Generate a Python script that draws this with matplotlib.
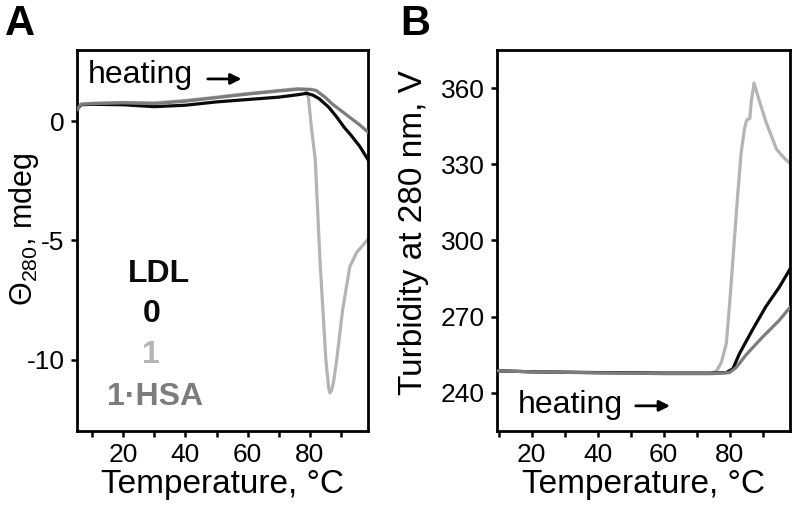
import matplotlib
matplotlib.use('Agg')
import matplotlib.pyplot as plt

plt.rcParams['font.family'] = ['Liberation Sans', 'DejaVu Sans']
plt.rcParams['mathtext.fontset'] = 'custom'
plt.rcParams['mathtext.rm'] = 'Liberation Sans'
plt.rcParams['mathtext.it'] = 'Liberation Sans'
plt.rcParams['axes.unicode_minus'] = False

BLACK = '#0a0a0a'
LIGHT = '#b4b4b4'
MID = '#7c7c7c'

# panel A: CD at 280 nm
tA_0 = [5.2, 6.5, 10, 20, 30, 40, 50, 60, 70, 76, 79, 81, 83, 86, 88.5, 91, 93, 96, 98.6]
cd_0 = [0.5, 0.7, 0.72, 0.7, 0.62, 0.68, 0.82, 0.92, 1.02, 1.12, 1.18, 1.1, 0.95, 0.6, 0.2, -0.25, -0.55, -1.05, -1.6]

tA_hsa = [5.2, 6.5, 10, 20, 30, 40, 50, 60, 70, 76, 80, 82, 85, 87, 90, 93, 96, 98.6]
cd_hsa = [0.5, 0.72, 0.75, 0.78, 0.75, 0.85, 1.0, 1.15, 1.28, 1.35, 1.35, 1.3, 1.0, 0.75, 0.45, 0.15, -0.15, -0.45]

tA_1 = [5.2, 6.5, 10, 20, 30, 40, 50, 60, 70, 76, 78.5, 79.5, 80.5, 81.7, 83.2, 85.1,
        86.0, 86.4, 86.9, 87.5, 88.6, 90.5, 92.8, 95, 98.6]
cd_1 = [0.5, 0.72, 0.76, 0.8, 0.78, 0.88, 1.02, 1.17, 1.3, 1.38, 1.35, 1.0, -0.3, -1.6, -5.8, -10,
        -11.2, -11.4, -11.3, -11.0, -10, -7.9, -6.1, -5.5, -4.95]

# panel B: turbidity
tB_0 = [9.5, 20, 40, 60, 75, 79, 81, 83, 87, 91, 95, 98.2]
tu_0 = [248.7, 248.3, 248.0, 247.8, 247.8, 248.0, 249.5, 255.5, 265, 274, 281.5, 288.5]

tB_hsa = [9.5, 20, 40, 60, 75, 80, 82, 85, 90, 95, 98.2]
tu_hsa = [248.7, 248.3, 247.9, 247.6, 247.6, 248, 250, 255, 262, 268.5, 273.5]

tB_1 = [9.5, 20, 40, 60, 74, 76, 77.5, 79, 80, 81, 82, 82.5, 83.5, 84.5, 85.2, 86.1,
        86.6, 87.4, 89, 91.1, 94.2, 96.5, 98.2]
tu_1 = [248.7, 248.3, 247.9, 247.6, 247.6, 248.5, 252, 259.4, 275, 292.4, 310, 318.8, 334.6, 344, 347.5, 348,
        355, 362, 355, 346.4, 336, 332.5, 330.5]

fig = plt.figure(figsize=(7.97, 5.08), dpi=100)
axA = fig.add_axes([0.0966, 0.1516, 0.365, 0.75])
axB = fig.add_axes([0.6236, 0.1516, 0.3676, 0.75])

lw = 2.3
axA.plot(tA_0, cd_0, color=BLACK, lw=lw, zorder=3)
axA.plot(tA_hsa, cd_hsa, color=MID, lw=lw, zorder=4)
axA.plot(tA_1, cd_1, color=LIGHT, lw=lw, zorder=2)
axA.set_xlim(5.2, 98.6)
axA.set_ylim(-13, 3)
axA.set_yticks([0, -5, -10])

axB.plot(tB_0, tu_0, color=BLACK, lw=lw, zorder=3)
axB.plot(tB_hsa, tu_hsa, color=MID, lw=lw, zorder=4)
axB.plot(tB_1, tu_1, color=LIGHT, lw=lw, zorder=2)
axB.set_xlim(9.5, 98.3)
axB.set_ylim(225, 375)
axB.set_yticks([240, 270, 300, 330, 360])

for ax in (axA, axB):
    ax.set_xticks([20, 40, 60, 80])
    ax.set_xticks(range(10, 100, 10), minor=True)
    ax.tick_params(which='both', direction='out', length=4, width=1.8, labelsize=19, pad=5,
                   top=False, right=False)
    ax.tick_params(axis='y', which='minor', left=False)
    for s in ax.spines.values():
        s.set_linewidth(2)
    ax.set_xlabel('Temperature, °C', fontsize=24)
    ax.xaxis.set_label_coords(0.5, -0.1)

axA.set_ylabel('Θ$_{280}$, mdeg', fontsize=22)
axA.yaxis.set_label_coords(-0.125, 0.53)
axB.set_ylabel('Turbidity at 280 nm, V', fontsize=24)
axB.yaxis.set_label_coords(-0.232, 0.522)

# heating arrows
axA.text(0.038, 0.913, 'heating', transform=axA.transAxes, fontsize=23, va='baseline')
axA.annotate('', xy=(0.575, 0.924), xytext=(0.44, 0.924), xycoords='axes fraction',
             arrowprops=dict(arrowstyle='-|>', color='k', lw=2, mutation_scale=16))
axB.text(0.072, 0.047, 'heating', transform=axB.transAxes, fontsize=23, va='baseline')
axB.annotate('', xy=(0.6, 0.066), xytext=(0.464, 0.066), xycoords='axes fraction',
             arrowprops=dict(arrowstyle='-|>', color='k', lw=2, mutation_scale=16))

# legend labels
axA.text(0.282, 0.391, 'LDL', transform=axA.transAxes, fontsize=23, fontweight='bold',
         ha='center', va='baseline', color=BLACK)
axA.text(0.258, 0.286, '0', transform=axA.transAxes, fontsize=23, fontweight='bold',
         ha='center', va='baseline', color=BLACK)
axA.text(0.254, 0.178, '1', transform=axA.transAxes, fontsize=23, fontweight='bold',
         ha='center', va='baseline', color=LIGHT)
axA.text(0.268, 0.068, '1·HSA', transform=axA.transAxes, fontsize=23, fontweight='bold',
         ha='center', va='baseline', color=MID)

fig.text(0.006, 0.931, 'A', fontsize=30, fontweight='bold', va='baseline')
fig.text(0.502, 0.931, 'B', fontsize=30, fontweight='bold', va='baseline')

fig.savefig('out.png', dpi=100)
